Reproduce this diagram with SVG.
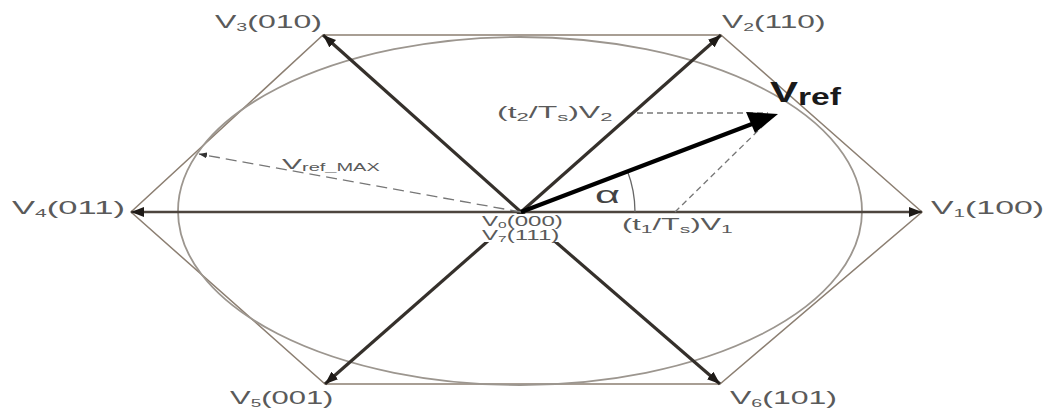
<svg xmlns="http://www.w3.org/2000/svg" width="1047" height="408" viewBox="0 0 1047 408">
<style>
.lbl{font-family:"Liberation Sans",Arial,sans-serif;font-size:18px;fill:#5a5a5a}
.sub{font-size:11px}
.small{font-family:"Liberation Sans",Arial,sans-serif;font-size:14px;fill:#5a5a5a}
.sub9{font-size:9px}
.mid{font-family:"Liberation Sans",Arial,sans-serif;font-size:16px;fill:#5a5a5a}
.hex{fill:none;stroke:#8c7f72;stroke-width:1.5}
.ell{fill:none;stroke:#9c968f;stroke-width:1.8}
.thick{stroke:#35302b;stroke-width:3.2;fill:none}
.axis{stroke:#4d453e;stroke-width:2.5;fill:none}
.dash{stroke:#777;stroke-width:1.3;stroke-dasharray:6 4;fill:none}
.dashl{stroke:#777;stroke-width:1.3;stroke-dasharray:11 6;fill:none}
</style>
<defs>
<marker id="ah" markerUnits="userSpaceOnUse" markerWidth="13" markerHeight="10" refX="13" refY="5" orient="auto-start-reverse">
<path d="M0,0 L13,5 L0,10 z" fill="#1e1a17"/>
</marker>
<marker id="ahs" markerUnits="userSpaceOnUse" markerWidth="8" markerHeight="6" refX="8" refY="3" orient="auto">
<path d="M0,0 L8,3 L0,6 z" fill="#333"/>
</marker>
</defs>
<rect width="1047" height="408" fill="#fff"/>
<g id="hexagon">
<polygon class="hex" points="922,212 721,35 323,35 131,212 325,384 720,384"/>
</g>
<g id="circle">
<ellipse class="ell" cx="520" cy="211" rx="342" ry="174"/>
</g>
<g id="connectors">
<line class="axis" x1="131" y1="212" x2="922" y2="212" marker-start="url(#ah)" marker-end="url(#ah)"/>
<line class="thick" x1="521" y1="212" x2="721" y2="35" marker-end="url(#ah)"/>
<line class="thick" x1="521" y1="212" x2="323" y2="35" marker-end="url(#ah)"/>
<line class="thick" x1="521" y1="212" x2="325" y2="384" marker-end="url(#ah)"/>
<line class="thick" x1="521" y1="212" x2="720" y2="384" marker-end="url(#ah)"/>
<line class="dash" x1="637" y1="113" x2="768" y2="113"/>
<line class="dash" x1="675" y1="212" x2="770" y2="119"/>
<line class="dashl" x1="521" y1="212" x2="199" y2="154" marker-end="url(#ahs)"/>
<path d="M635,212 A114,114 0 0 0 627.4,171.1" fill="none" stroke="#666" stroke-width="1.3"/>
<line x1="521" y1="212" x2="752" y2="124" stroke="#000" stroke-width="4.2"/>
<polygon points="778,114 746,112 755,133" fill="#000"/>
</g>
<g id="V3"><text class="lbl" transform="translate(215,28) scale(1.78,1)">V<tspan class="sub" dy="3">3</tspan><tspan dy="-3">(010)</tspan></text></g>
<g id="V2"><text class="lbl" transform="translate(722,28) scale(1.76,1)">V<tspan class="sub" dy="3">2</tspan><tspan dy="-3">(110)</tspan></text></g>
<g id="V4"><text class="lbl" transform="translate(12,214) scale(1.92,1)">V<tspan class="sub" dy="3">4</tspan><tspan dy="-3">(011)</tspan></text></g>
<g id="V1"><text class="lbl" transform="translate(931,214) scale(1.88,1)">V<tspan class="sub" dy="3">1</tspan><tspan dy="-3">(100)</tspan></text></g>
<g id="V5"><text class="lbl" transform="translate(230,404) scale(1.72,1)">V<tspan class="sub" dy="3">5</tspan><tspan dy="-3">(001)</tspan></text></g>
<g id="V6"><text class="lbl" transform="translate(730,404) scale(1.78,1)">V<tspan class="sub" dy="3">6</tspan><tspan dy="-3">(101)</tspan></text></g>
<g id="V0V7">
<rect x="481" y="214" width="86" height="28" fill="#fff"/>
<text class="small" transform="translate(482,226) scale(1.72,1)">V<tspan class="sub9" dy="2">0</tspan><tspan dy="-2">(000)</tspan></text>
<text class="small" transform="translate(482,240) scale(1.72,1)">V<tspan class="sub9" dy="2">7</tspan><tspan dy="-2">(111)</tspan></text>
</g>
<g id="t2V2"><text class="mid" transform="translate(497,118) scale(2.0,1)">(t<tspan class="sub" dy="3">2</tspan><tspan dy="-3">/T</tspan><tspan class="sub" dy="3">s</tspan><tspan dy="-3">)V</tspan><tspan class="sub" dy="3">2</tspan></text></g>
<g id="t1V1"><text class="mid" transform="translate(622,230) scale(1.92,1)">(t<tspan class="sub" dy="3">1</tspan><tspan dy="-3">/T</tspan><tspan class="sub" dy="3">s</tspan><tspan dy="-3">)V</tspan><tspan class="sub" dy="3">1</tspan></text></g>
<g id="VrefMax"><text class="mid" transform="translate(282,169) scale(2.0,1)" style="font-size:15px">V<tspan style="font-size:10px" dy="2">ref_MAX</tspan></text></g>
<g id="Vref"><text transform="translate(770,102) scale(1.4,1)" font-family="'Liberation Sans',Arial,sans-serif" font-weight="bold" fill="#1a1a1a" font-size="30">V<tspan font-size="24" dy="3">ref</tspan></text></g>
<g id="alpha"><text transform="translate(595,203) scale(1.8,1)" font-family="'Liberation Sans',Arial,sans-serif" font-size="24" fill="#444">α</text></g>
</svg>
